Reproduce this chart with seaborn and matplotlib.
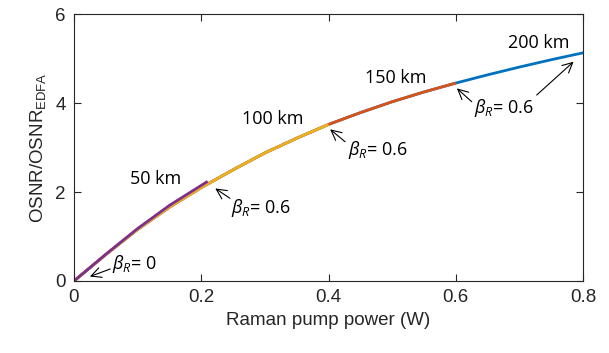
import matplotlib
matplotlib.use("Agg")
import matplotlib.pyplot as plt
import seaborn as sns
import pandas as pd

# ---- data ----
x_200 = [0, .05, .1, .15, .2, .25, .3, .35, .4, .45, .5, .55, .6, .65, .7, .75, .8]
y_200 = [0, 0.595, 1.16, 1.66, 2.10, 2.50, 2.88, 3.21, 3.52, 3.785, 4.03, 4.25, 4.45, 4.635, 4.81, 4.975, 5.13]
x_150 = [0, .05, .1, .15, .2, .25, .3, .35, .4, .45, .5, .55, .6]
y_150 = [0, 0.595, 1.16, 1.66, 2.10, 2.50, 2.88, 3.21, 3.52, 3.785, 4.03, 4.25, 4.45]
x_100 = [0, .05, .1, .15, .2, .25, .3, .35, .4]
y_100 = [0, 0.595, 1.16, 1.66, 2.10, 2.50, 2.88, 3.21, 3.52]
x_50 = [0, .05, .1, .15, .21]
y_50 = [0, 0.60, 1.18, 1.70, 2.24]

series = ["200 km", "150 km", "100 km", "50 km"]
colors = ["#0072BD", "#D95319", "#EDB120", "#7E2F8E"]

x_ticks = [0, 0.2, 0.4, 0.6, 0.8]
x_ticklabels = ["0", "0.2", "0.4", "0.6", "0.8"]
y_ticks = [0, 2, 4, 6]

df = pd.concat([
    pd.DataFrame({"x": x_200, "y": y_200, "s": "200 km"}),
    pd.DataFrame({"x": x_150, "y": y_150, "s": "150 km"}),
    pd.DataFrame({"x": x_100, "y": y_100, "s": "100 km"}),
    pd.DataFrame({"x": x_50, "y": y_50, "s": "50 km"}),
], ignore_index=True)

sns.set_theme(style="ticks")
plt.rcParams["font.family"] = ["Liberation Sans", "DejaVu Sans"]
plt.rcParams["mathtext.fontset"] = "custom"
plt.rcParams["mathtext.rm"] = "Liberation Sans"
plt.rcParams["mathtext.it"] = "Open Sans:italic"

fig = plt.figure(figsize=(6.09, 3.53), dpi=100)
ax = fig.add_axes([0.1215, 0.204, 0.836, 0.756])

sns.lineplot(data=df, x="x", y="y", hue="s", hue_order=series,
             palette=colors, sort=False, linewidth=2.0, legend=False,
             estimator=None, ax=ax)
for ln in ax.lines:
    ln.set_solid_joinstyle("round")
    ln.set_solid_capstyle("butt")

ax.set_xlim(0, 0.8)
ax.set_ylim(0, 6)
ax.set_xticks(x_ticks)
ax.set_xticklabels(x_ticklabels)
ax.set_yticks(y_ticks)
gray = "#262626"
for sp in ax.spines.values():
    sp.set_visible(True)
    sp.set_color(gray)
    sp.set_linewidth(0.8)
ax.tick_params(direction="in", length=5, width=0.8, top=True, right=True,
               labelsize=13.5, colors=gray, pad=6)
ax.set_xlabel("Raman pump power (W)", fontsize=13.5, color=gray, labelpad=4)
ax.set_ylabel(r"OSNR/OSNR$_{\mathrm{EDFA}}$", fontsize=13.5, color=gray, labelpad=5)

afont = dict(family=["Open Sans", "DejaVu Sans"], fontsize=13, color="black")
ax.text(0.129, 2.29, "50 km", ha="center", va="center", **afont)
ax.text(0.313, 3.65, "100 km", ha="center", va="center", **afont)
ax.text(0.505, 4.57, "150 km", ha="center", va="center", **afont)
ax.text(0.73, 5.36, "200 km", ha="center", va="center", **afont)

arrow = dict(arrowstyle="->,head_length=0.6,head_width=0.3", mutation_scale=12,
             color="black", lw=0.8, shrinkA=0, shrinkB=0)
ax.text(0.059, 0.38, r"$\beta_R$= 0", ha="left", va="center", **afont)
ax.annotate("", xy=(0.025, 0.10), xytext=(0.057, 0.27), arrowprops=arrow)

ax.text(0.247, 1.64, r"$\beta_R$= 0.6", ha="left", va="center", **afont)
ax.annotate("", xy=(0.222, 2.08), xytext=(0.245, 1.86), arrowprops=arrow)

ax.text(0.430, 2.94, r"$\beta_R$= 0.6", ha="left", va="center", **afont)
ax.annotate("", xy=(0.4025, 3.41), xytext=(0.426, 3.13), arrowprops=arrow)

ax.text(0.629, 3.88, r"$\beta_R$= 0.6", ha="left", va="center", **afont)
ax.annotate("", xy=(0.6017, 4.33), xytext=(0.625, 4.03), arrowprops=arrow)
ax.annotate("", xy=(0.785, 4.93), xytext=(0.727, 4.18), arrowprops=arrow)

fig.savefig("out.png", dpi=100)
